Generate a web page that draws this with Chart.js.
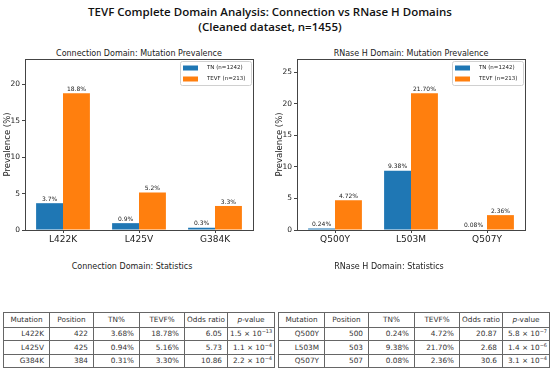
<!DOCTYPE html>
<html>
<head>
<meta charset="utf-8">
<script src="https://cdn.jsdelivr.net/npm/chart.js@4.4.1/dist/chart.umd.min.js"></script>
<style>
  html, body { margin:0; padding:0; background:#fff; }
  body { width:550px; height:378px; position:relative; overflow:hidden; font-family:"DejaVu Sans", sans-serif; color:#222; }
  #suptitle { position:absolute; left:0; top:4px; width:540px; text-align:center; font:600 11.5px "Open Sans", sans-serif; line-height:15px; color:#111; }
  .ptitle { position:absolute; top:49px; width:228px; text-align:center; font-size:8px; line-height:10px; color:#222; }
  .ttitle { position:absolute; top:262px; width:200px; text-align:center; font-size:8px; line-height:10px; color:#222; }
  .cbox { position:absolute; top:50px; width:275px; height:210px; }
  table { position:absolute; top:312px; border-collapse:collapse; font-size:7.3px; color:#333; table-layout:fixed; }
  td, th { border:1px solid #666; padding:0 5px 0 2px; height:12.5px; text-align:right; font-weight:normal; white-space:nowrap; overflow:hidden; }
  td:last-child { padding:0 2px; }
  th { text-align:center; height:13.5px; padding:0 2px; }
  sup { font-size:5px; vertical-align:3px; line-height:0; }
</style>
</head>
<body>
<div id="suptitle">TEVF Complete Domain Analysis: Connection vs RNase H Domains<br>(Cleaned dataset, n=1455)</div>
<div class="ptitle" style="left:25px">Connection Domain: Mutation Prevalence</div>
<div class="ptitle" style="left:297px">RNase H Domain: Mutation Prevalence</div>
<div class="cbox" style="left:0px"><canvas id="c1"></canvas></div>
<div class="cbox" style="left:272px"><canvas id="c2"></canvas></div>
<div class="ttitle" style="left:32px">Connection Domain: Statistics</div>
<div class="ttitle" style="left:289px">RNase H Domain: Statistics</div>
<table id="t1" style="left:3px;width:271px"></table>
<table id="t2" style="left:278px;width:271px"></table>
<script>
// ---- Data ----
const connCategories = ["L422K", "L425V", "G384K"];
const connTN = [3.68, 0.94, 0.31];
const connTEVF = [18.78, 5.16, 3.30];
const rnhCategories = ["Q500Y", "L503M", "Q507Y"];
const rnhTN = [0.24, 9.38, 0.08];
const rnhTEVF = [4.72, 21.70, 2.36];
const seriesLabels = ["TN (n=1242)", "TEVF (n=213)"];
const connYMax = 23.475;
const rnhYMax = 27.125;

const tableHeader = ["Mutation", "Position", "TN%", "TEVF%", "Odds ratio", "<i>p</i>-value"];
const connPositions = [422, 425, 384];
const connOdds = ["6.05", "5.73", "10.86"];
const connP = [["1.5", "−13"], ["1.1", "−4"], ["2.2", "−4"]];
const rnhPositions = [500, 503, 507];
const rnhOdds = ["20.87", "2.68", "30.6"];
const rnhP = [["5.8", "−7"], ["1.4", "−6"], ["3.1", "−4"]];

// ---- Tables ----
function buildTable(id, cats, pos, tn, tevf, odds, p) {
  const t = document.getElementById(id);
  const widths = [46, 44, 46, 45, 43, 47];
  let h = '<colgroup>' + widths.map(w => `<col style="width:${w}px">`).join('') + '</colgroup>';
  h += '<tr>' + tableHeader.map(x => `<th>${x}</th>`).join('') + '</tr>';
  cats.forEach((c, i) => {
    h += `<tr><td>${c}</td><td>${pos[i]}</td><td>${tn[i].toFixed(2)}%</td><td>${tevf[i].toFixed(2)}%</td><td>${odds[i]}</td><td>${p[i][0]} × 10<sup>${p[i][1]}</sup></td></tr>`;
  });
  t.innerHTML = h;
}
buildTable('t1', connCategories, connPositions, connTN, connTEVF, connOdds, connP);
buildTable('t2', rnhCategories, rnhPositions, rnhTN, rnhTEVF, rnhOdds, rnhP);

// ---- Plugins ----
const frame = {
  id: 'frame',
  afterDraw(chart) {
    const { ctx, chartArea: a } = chart;
    ctx.save();
    ctx.strokeStyle = '#444';
    ctx.lineWidth = 1;
    ctx.strokeRect(Math.round(a.left) + 0.5, Math.round(a.top) + 0.5, Math.round(a.right - a.left), Math.round(a.bottom - a.top));
    ctx.restore();
  }
};
const valueLabels = {
  id: 'valueLabels',
  afterDatasetsDraw(chart, args, opts) {
    const { ctx } = chart;
    ctx.save();
    ctx.font = '6px "DejaVu Sans"';
    ctx.fillStyle = '#222';
    ctx.textAlign = 'center';
    ctx.textBaseline = 'bottom';
    chart.data.datasets.forEach((ds, di) => {
      chart.getDatasetMeta(di).data.forEach((el, i) => {
        ctx.fillText(ds.data[i].toFixed(opts.decimals) + '%', el.x, el.y - 1);
      });
    });
    ctx.restore();
  }
};
const legendBox = {
  id: 'legendBox',
  afterDraw(chart) {
    const { ctx, chartArea: a } = chart;
    const w = 71, h = 24;
    const x = a.right - w - 2, y = a.top + 2;
    ctx.save();
    ctx.fillStyle = 'rgba(255,255,255,0.85)';
    ctx.strokeStyle = '#d0d0d0';
    ctx.lineWidth = 1;
    ctx.beginPath();
    ctx.roundRect(x + 0.5, y + 0.5, w, h, 2);
    ctx.fill();
    ctx.stroke();
    ctx.font = '5.5px "DejaVu Sans"';
    ctx.textBaseline = 'middle';
    chart.data.datasets.forEach((ds, i) => {
      const cy = y + 7 + i * 11;
      ctx.fillStyle = ds.backgroundColor;
      ctx.fillRect(x + 3, cy - 2.5, 15, 5);
      ctx.fillStyle = '#222';
      ctx.fillText(ds.label, x + 27, cy);
    });
    ctx.restore();
  }
};

function makeChart(id, cats, tn, tevf, ymax, decimals) {
  return new Chart(document.getElementById(id), {
    type: 'bar',
    data: {
      labels: cats,
      datasets: [
        { label: seriesLabels[0], data: tn, backgroundColor: '#1f77b4' },
        { label: seriesLabels[1], data: tevf, backgroundColor: '#ff7f0e' }
      ]
    },
    options: {
      responsive: true,
      maintainAspectRatio: false,
      animation: false,
      devicePixelRatio: 1,
      categoryPercentage: 0.708,
      barPercentage: 1.0,
      layout: { padding: { left: 0, top: 9, right: 22, bottom: 0 } },
      plugins: {
        legend: { display: false },
        tooltip: { enabled: false },
        valueLabels: { decimals: decimals }
      },
      scales: {
        x: {
          grid: { drawOnChartArea: false, offset: false, tickLength: 3, color: '#444' },
          border: { display: true, color: '#444' },
          ticks: { font: { size: 9, family: 'DejaVu Sans' }, color: '#222', padding: 1, maxRotation: 0 },
          afterFit(s) { s.height = 30; }
        },
        y: {
          min: 0, max: ymax,
          grid: { drawOnChartArea: false, tickLength: 3, color: '#444' },
          border: { display: true, color: '#444' },
          ticks: { stepSize: 5, includeBounds: false, font: { size: 7.5, family: 'DejaVu Sans' }, color: '#222', padding: 2 },
          title: { display: true, text: 'Prevalence (%)', font: { size: 8.5, family: 'DejaVu Sans' }, color: '#222', padding: { top: 3, bottom: 0 } },
          afterFit(s) { s.width = 25; }
        }
      }
    },
    plugins: [frame, valueLabels, legendBox]
  });
}
makeChart('c1', connCategories, connTN, connTEVF, connYMax, 1);
makeChart('c2', rnhCategories, rnhTN, rnhTEVF, rnhYMax, 2);
</script>
</body>
</html>
